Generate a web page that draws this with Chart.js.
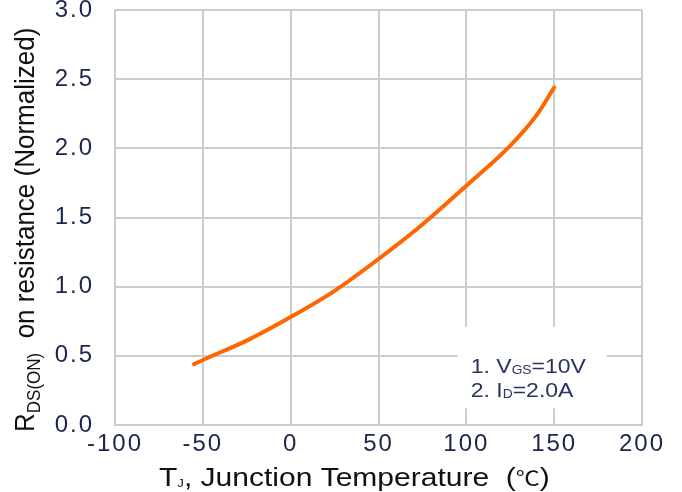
<!DOCTYPE html>
<html>
<head>
<meta charset="utf-8">
<script src="https://cdn.jsdelivr.net/npm/chart.js@4/dist/chart.umd.min.js"></script>
<style>
html,body{margin:0;padding:0;background:#ffffff;}
canvas{display:block;}
</style>
</head>
<body>
<canvas id="chart" width="682" height="492"></canvas>
<script>
// ---- data ----
const temperatureC = [-55, -50, -25, 0, 25, 50, 75, 100, 125, 140, 150];
const rdsOnNormalized = [0.44, 0.47, 0.61, 0.78, 0.97, 1.20, 1.45, 1.73, 2.02, 2.24, 2.44];
const xTickValues = [-100, -50, 0, 50, 100, 150, 200];
const yTickValues = [0.0, 0.5, 1.0, 1.5, 2.0, 2.5, 3.0];
const noteLines = [["1. V", "GS", "=10V"], ["2. I", "D", "=2.0A"]];
const xTitleParts = ["T", "J", ", Junction Temperature", "  (", "℃", ")"];
const yTitleParts = ["R", "DS(ON)", "  on resistance (Normalized)"];

// ---- styling ----
const SANS = '"Liberation Sans", Arial, Helvetica, sans-serif';
const CJK = '"Noto Sans CJK SC", "Noto Sans CJK JP", sans-serif';
const GRID = '#cccccc';
const TICK_COLOR = '#1c2450';
const NOTE_COLOR = '#2a3562';
const LINE_COLOR = '#ff6600';

function drawParts(ctx, parts, opt) {
  ctx.save();
  ctx.letterSpacing = '0px';
  ctx.fillStyle = opt.color;
  ctx.textAlign = 'left';
  ctx.textBaseline = 'alphabetic';
  ctx.translate(opt.x, opt.y);
  if (opt.rotate) ctx.rotate(-Math.PI / 2);
  ctx.scale(opt.sx || 1, opt.sy || 1);
  let cx = 0;
  parts.forEach(p => {
    ctx.font = p.size + 'px ' + (p.family || SANS);
    ctx.fillText(p.t, cx, p.dy || 0);
    cx += ctx.measureText(p.t).width;
  });
  ctx.restore();
}

const spacingPlugin = {
  id: 'spacing',
  beforeUpdate(chart) { chart.ctx.letterSpacing = '2px'; },
  beforeDraw(chart) { chart.ctx.letterSpacing = '2px'; }
};

const textPlugin = {
  id: 'texts',
  afterDatasetsDraw(chart) {
    const ctx = chart.ctx;
    const xs = chart.scales.x, ys = chart.scales.y;
    // note box (white background hiding grid)
    const bx0 = xs.getPixelForValue(95), bx1 = xs.getPixelForValue(180);
    const by0 = ys.getPixelForValue(0.71), by1 = ys.getPixelForValue(0.12);
    ctx.save();
    ctx.fillStyle = '#ffffff';
    ctx.fillRect(bx0, by0, bx1 - bx0, by1 - by0);
    ctx.restore();
    const tx = xs.getPixelForValue(102.5);
    const baselines = [0.375, 0.20];
    noteLines.forEach((ln, i) => {
      drawParts(ctx, [
        {t: ln[0], size: 20},
        {t: ln[1], size: 12, dy: 1},
        {t: ln[2], size: 20}
      ], {x: tx, y: ys.getPixelForValue(baselines[i]), sx: 1.15, color: NOTE_COLOR});
    });
  },
  afterDraw(chart) {
    const ctx = chart.ctx;
    // x axis title
    drawParts(ctx, [
      {t: xTitleParts[0], size: 25},
      {t: xTitleParts[1], size: 11, dy: 1},
      {t: xTitleParts[2], size: 25},
      {t: xTitleParts[3], size: 25},
      {t: xTitleParts[4], size: 20, family: CJK},
      {t: xTitleParts[5], size: 25}
    ], {x: 159, y: 486, sx: 1.2, color: '#111111'});
    // y axis title (rotated)
    drawParts(ctx, [
      {t: yTitleParts[0], size: 26},
      {t: yTitleParts[1], size: 17, dy: 6},
      {t: yTitleParts[2], size: 26}
    ], {x: 34, y: 432, rotate: true, sy: 1.08, color: '#111111'});
  }
};

const ctx = document.getElementById('chart').getContext('2d');
new Chart(ctx, {
  type: 'line',
  data: {
    datasets: [{
      data: temperatureC.map((t, i) => ({x: t, y: rdsOnNormalized[i]})),
      borderColor: LINE_COLOR,
      borderWidth: 4,
      borderCapStyle: 'round',
      borderJoinStyle: 'round',
      pointRadius: 0,
      cubicInterpolationMode: 'monotone',
      fill: false
    }]
  },
  options: {
    responsive: false,
    devicePixelRatio: 1,
    animation: false,
    layout: {padding: {top: 10, right: 40, left: 0, bottom: 0}},
    plugins: {legend: {display: false}, tooltip: {enabled: false}},
    scales: {
      x: {
        type: 'linear',
        min: -100, max: 200,
        afterBuildTicks: s => { s.ticks = xTickValues.map(v => ({value: v})); },
        afterFit: s => { s.height = 67; s.paddingLeft = 0; s.paddingRight = 0; },
        ticks: {
          color: TICK_COLOR,
          font: {family: SANS, size: 24},
          padding: 5,
          maxRotation: 0,
          autoSkip: false,
          callback: v => String(v)
        },
        grid: {color: GRID, lineWidth: 2, drawTicks: false},
        border: {color: GRID, width: 2}
      },
      y: {
        min: 0, max: 3,
        afterBuildTicks: s => { s.ticks = yTickValues.map(v => ({value: v})); },
        afterFit: s => { s.width = 115; s.paddingTop = 0; s.paddingBottom = 0; },
        ticks: {
          color: TICK_COLOR,
          font: {family: SANS, size: 24},
          padding: 21,
          autoSkip: false,
          callback: v => Number(v).toFixed(1)
        },
        grid: {color: GRID, lineWidth: 2, drawTicks: false},
        border: {color: GRID, width: 2}
      }
    }
  },
  plugins: [spacingPlugin, textPlugin]
});
</script>
</body>
</html>
